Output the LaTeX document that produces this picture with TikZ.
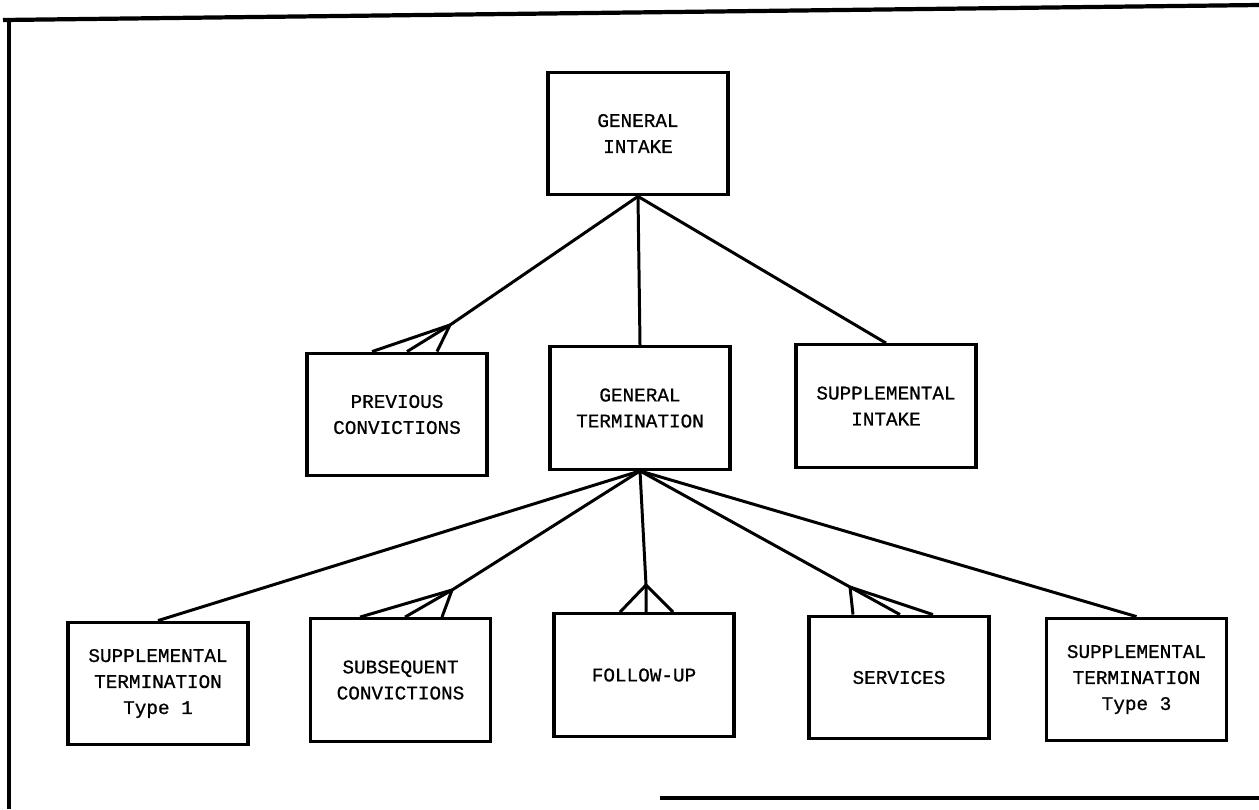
\documentclass[tikz,border=0pt]{standalone}
\usepackage{fontspec}
\newfontfamily\typewriter{Liberation Mono}[FakeBold=0.8]
\usepackage{tikz}

\begin{document}
\begin{tikzpicture}[
    form/.style={draw, line width=1.9pt, minimum width=3.6cm, minimum height=2.45cm,
                 inner sep=0pt, align=center, font=\typewriter\fontsize{11}{14.8}\selectfont},
    link/.style={line width=1.7pt},
    frame/.style={line width=2.4pt}]
        \useasboundingbox (0,0) rectangle (25.18,-16.18);
        \draw [frame] (0.06,-0.40) -- (25.18,-0.10);                  % top edge
        \draw [frame] (0.18,-0.40) -- (0.18,-16.18);                  % left edge
        \draw [frame] (13.2,-15.96) -- (25.18,-15.96);                % bottom edge

        \node [form] (gi)  at (12.76,-2.67)  {GENERAL\\INTAKE};               %
        \node [form] (pc)  at (7.94,-8.29)   {PREVIOUS\\CONVICTIONS};         %
        \node [form] (gt)  at (12.80,-8.16)  {GENERAL\\TERMINATION};          %
        \node [form] (si)  at (17.72,-8.12)  {SUPPLEMENTAL\\INTAKE};          %
        \node [form] (st1) at (3.16,-13.67)  {SUPPLEMENTAL\\TERMINATION\\Type 1};
        \node [form] (sc)  at (8.01,-13.60)  {SUBSEQUENT\\CONVICTIONS};       %
        \node [form] (fu)  at (12.88,-13.50) {FOLLOW-UP};                     %
        \node [form] (sv)  at (17.98,-13.55) {SERVICES};                      %
        \node [form] (st3) at (22.73,-13.59) {SUPPLEMENTAL\\TERMINATION\\Type 3};

        \coordinate (jpc) at (9.00,-6.50);                            % forks
        \coordinate (jsc) at (9.04,-11.80);                           %
        \coordinate (jfu) at (12.92,-11.70);                          %
        \coordinate (jsv) at (17.00,-11.74);                          %

        \draw [link] (gi.south) -- (gt.north);                        %
        \draw [link] (gi.south) -- (si.north);                        %
        \draw [link] (gi.south) -- (jpc);                             %
        \draw [link] (jpc) -- ([xshift=-0.50cm]pc.north);             %
        \draw [link] (jpc) -- ([xshift=0.20cm]pc.north);              %
        \draw [link] (jpc) -- ([xshift=0.80cm]pc.north);              %

        \draw [link] (gt.south) -- (st1.north);                       %
        \draw [link] (gt.south) -- (st3.north);                       %
        \draw [link] (gt.south) -- (jsc);                             %
        \draw [link] (jsc) -- ([xshift=-0.81cm]sc.north);             %
        \draw [link] (jsc) -- ([xshift=0.09cm]sc.north);              %
        \draw [link] (jsc) -- ([xshift=0.83cm]sc.north);              %
        \draw [link] (gt.south) -- (jfu);                             %
        \draw [link] (jfu) -- ([xshift=-0.48cm]fu.north);             %
        \draw [link] (jfu) -- ([xshift=0.04cm]fu.north);              %
        \draw [link] (jfu) -- ([xshift=0.58cm]fu.north);              %
        \draw [link] (gt.south) -- (jsv);                             %
        \draw [link] (jsv) -- ([xshift=-0.92cm]sv.north);             %
        \draw [link] (jsv) -- ([xshift=0.02cm]sv.north);              %
        \draw [link] (jsv) -- ([xshift=0.68cm]sv.north);              %
      \end{tikzpicture}
\end{document}
